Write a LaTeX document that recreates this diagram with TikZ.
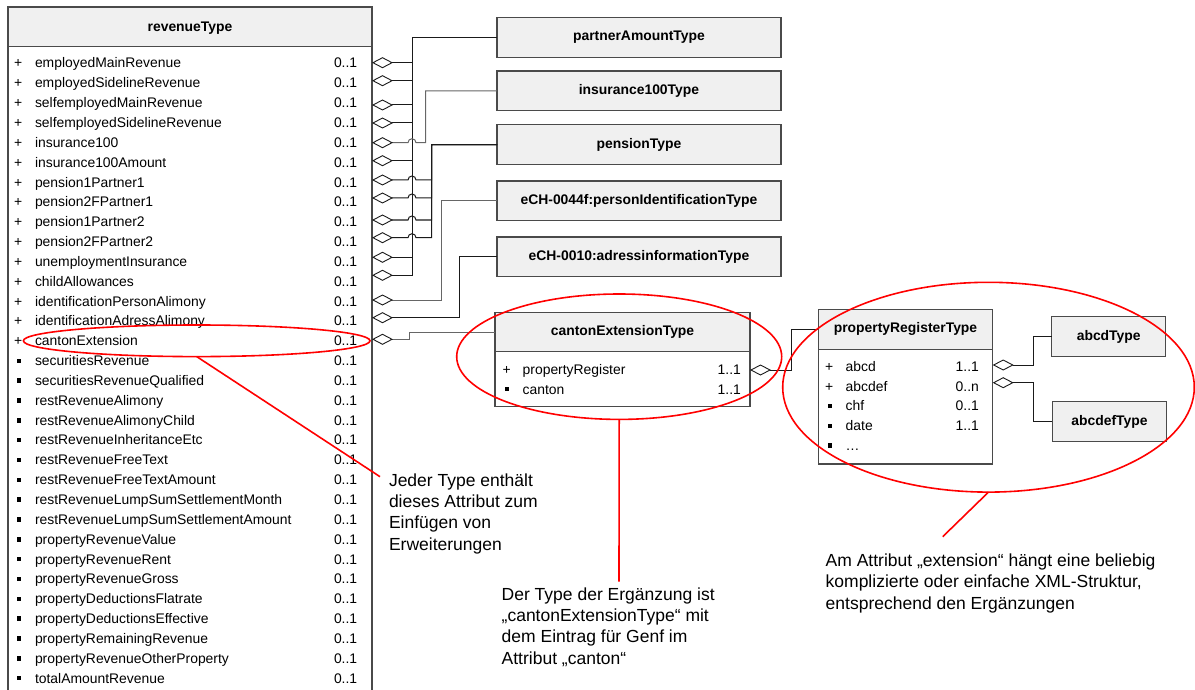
\documentclass[tikz,border=0pt]{standalone}
\usepackage{fontspec}
\setmainfont{Liberation Sans}
\usetikzlibrary{arrows.meta,shapes.geometric}
\definecolor{hdrfill}{HTML}{F0F0F0}
\definecolor{bordc}{HTML}{4A4A4A}
\definecolor{connc}{HTML}{1A1A1A}
\definecolor{conng}{HTML}{666666}
\begin{document}
\begin{tikzpicture}[x=1pt,y=-1pt,
  every node/.style={inner sep=0pt,outer sep=0pt},
  rowtxt/.style={font=\fontsize{13.9}{16}\selectfont,anchor=base west},
  sym/.style={font=\fontsize{13.9}{16}\selectfont,anchor=base},
  sqb/.style={fill=black,minimum width=4pt,minimum height=4.5pt},
  ttl/.style={font=\fontsize{13.9}{16}\selectfont\bfseries},
  hdrbox/.style={draw=bordc,fill=hdrfill,line width=1.1pt,ttl},
  bodybox/.style={draw=bordc,fill=white,line width=1.1pt,anchor=north west},
  typebox/.style={draw=bordc,fill=hdrfill,line width=1.3pt,ttl},
  agg/.style={{Diamond[open,length=21pt,width=11pt,line width=0.9pt,color=connc]}-,draw=connc,line width=1pt},
  agglight/.style={agg,draw=conng},
  hl/.style={ellipse,draw=red,line width=1.6pt},
  redline/.style={draw=red,line width=1.6pt},
  note/.style={font=\fontsize{17.5}{21.3}\selectfont,align=left,anchor=north west}
]
\useasboundingbox (0,0) rectangle (1195,690);
\clip (0,0) rectangle (1195,690);

% ---------- revenueType ----------
\node[bodybox,minimum width=364pt,minimum height=720pt] (rev) at (8,7) {};
\node[hdrbox,minimum width=364pt,minimum height=39.7pt,anchor=north west,text depth=1pt] (revh) at (8,7) {revenueType};
\foreach \nm [count=\i] in {employedMainRevenue,employedSidelineRevenue,selfemployedMainRevenue,selfemployedSidelineRevenue,insurance100,insurance100Amount,pension1Partner1,pension2FPartner1,pension1Partner2,pension2FPartner2,unemploymentInsurance,childAllowances,identificationPersonAlimony,identificationAdressAlimony,cantonExtension,securitiesRevenue,securitiesRevenueQualified,restRevenueAlimony,restRevenueAlimonyChild,restRevenueInheritanceEtc,restRevenueFreeText,restRevenueFreeTextAmount,restRevenueLumpSumSettlementMonth,restRevenueLumpSumSettlementAmount,propertyRevenueValue,propertyRevenueRent,propertyRevenueGross,propertyDeductionsFlatrate,propertyDeductionsEffective,propertyRemainingRevenue,propertyRevenueOtherProperty,totalAmountRevenue}{
  \pgfmathsetmacro{\yy}{68+(\i-1)*19.84}
  \node[rowtxt] (rn\i) at (35,\yy) {\nm};
  \node[rowtxt] (rm\i) at (334,\yy) {0..1};
  \ifnum\i<16
    \node[sym] (rs\i) at (18.3,\yy) {+};
  \else
    \node[sqb] (rs\i) at (18.5,\yy-4.8) {};
  \fi
}

% ---------- referenced types ----------
\node[typebox,minimum width=284pt,minimum height=39.6pt] (pat) at (639,37.5) {partnerAmountType};
\node[typebox,minimum width=284pt,minimum height=39.6pt] (ins) at (639,90.85) {insurance100Type};
\node[typebox,minimum width=284pt,minimum height=39.6pt] (pen) at (639,144.65) {pensionType};
\node[typebox,minimum width=284pt,minimum height=39.6pt] (pid) at (639,200.85) {eCH-0044f:personIdentificationType};
\node[typebox,minimum width=284pt,minimum height=39.6pt] (adr) at (639,256.85) {eCH-0010:adressinformationType};

% ---------- cantonExtensionType ----------
\node[bodybox,minimum width=255pt,minimum height=55pt] (cetb) at (495,351.7) {};
\node[hdrbox,minimum width=255pt,minimum height=39.4pt,anchor=north west] (ceth) at (495,312.3) {cantonExtensionType};
\node[sym] (cs1) at (506.7,374) {+};
\node[rowtxt] (cn1) at (522.7,374) {propertyRegister};
\node[rowtxt] (cm1) at (717.7,374) {1..1};
\node[sqb] (cs2) at (506.7,389.2) {};
\node[rowtxt] (cn2) at (522.7,394) {canton};
\node[rowtxt] (cm2) at (717.7,394) {1..1};

% ---------- propertyRegisterType ----------
\node[bodybox,minimum width=174.4pt,minimum height=114.7pt] (prtb) at (818.3,349.3) {};
\node[hdrbox,minimum width=174.4pt,minimum height=40pt,anchor=north west] (prth) at (818.3,309.3) {propertyRegisterType};
\node[sym] (ps1) at (829.3,371.5) {+};
\node[rowtxt] (pn1) at (845.7,371.5) {abcd};
\node[rowtxt] (pm1) at (955.7,371.5) {1..1};
\node[sym] (ps2) at (829.3,391.2) {+};
\node[rowtxt] (pn2) at (845.7,391.2) {abcdef};
\node[rowtxt] (pm2) at (955.7,391.2) {0..n};
\node[sqb] (ps3) at (829.5,406.1) {};
\node[rowtxt] (pn3) at (845.7,410.9) {chf};
\node[rowtxt] (pm3) at (955.7,410.9) {0..1};
\node[sqb] (ps4) at (829.5,425.8) {};
\node[rowtxt] (pn4) at (845.7,430.6) {date};
\node[rowtxt] (pm4) at (955.7,430.6) {1..1};
\node[sqb] (ps5) at (829.5,445.5) {};
\node[rowtxt] (pn5) at (845.7,450.3) {\dots};

\node[typebox,minimum width=114pt,minimum height=40pt] (abcd) at (1108.7,336.7) {abcdType};
\node[typebox,minimum width=114.4pt,minimum height=40pt] (abcdef) at (1109.5,421.7) {abcdefType};

% ---------- aggregation connectors ----------
\foreach \y in {62.7,80.7,105,123,160.7,257.3,275.3}
  \draw[agg] (rev.east |- 0,\y) -- (412,\y) |- (pat.west);
\draw[agglight] (rev.east |- 0,142.7) -- (408,142.7) arc[start angle=180,end angle=360,radius=4] -- (425.7,142.7) |- (ins.west);
\foreach \y in {180,198,220,237.7}
  \draw[agg] (rev.east |- 0,\y) -- (408,\y) arc[start angle=180,end angle=360,radius=4] -- (431.7,\y) |- (pen.west);
\draw[agglight] (rev.east |- 0,300) -- (441.7,300) |- (pid.west);
\draw[agg] (rev.east |- 0,317.7) -- (459.3,317.7) |- (adr.west);
\draw[agglight] (rev.east |- 0,339.3) -- (409.3,339.3) |- (ceth.west);
\draw[agg] (cetb.east |- 0,370) -- (791.7,370) |- (prth.west);
\draw[agg] (prtb.east |- 0,365) -- (1033.3,365) |- (abcd.west);
\draw[agg] (prtb.east |- 0,382.7) -- (1033.3,382.7) |- (abcdef.west);

% ---------- annotations ----------
\node[hl,minimum width=346.6pt,minimum height=31.6pt] (e1) at (196.7,340.8) {};
\node[hl,minimum width=325pt,minimum height=125.4pt] (e2) at (619.2,356.7) {};
\node[hl,minimum width=411.6pt,minimum height=209.8pt] (e3) at (988.5,387.2) {};

\node[note] (n1) at (389,473.5) {Jeder Type enthält\\dieses Attribut zum\\Einfügen von\\Erweiterungen};
\node[note] (n2) at (501.7,587.5) {Der Type der Ergänzung ist\\„cantonExtensionType“ mit\\dem Eintrag für Genf im\\Attribut „canton“};
\node[note] (n3) at (825.7,554) {Am Attribut „extension“ hängt eine beliebig\\komplizierte oder einfache XML-Struktur,\\entsprechend den Ergänzungen};

\coordinate (p1) at (380,476.7);
\coordinate (p2) at (619,581.5);
\coordinate (p3) at (942.7,536.7);
\draw[redline] (e1.south) -- (p1);
\draw[redline] (e2.south) -- (p2);
\draw[redline] (e3.south) -- (p3);
\end{tikzpicture}
\end{document}
